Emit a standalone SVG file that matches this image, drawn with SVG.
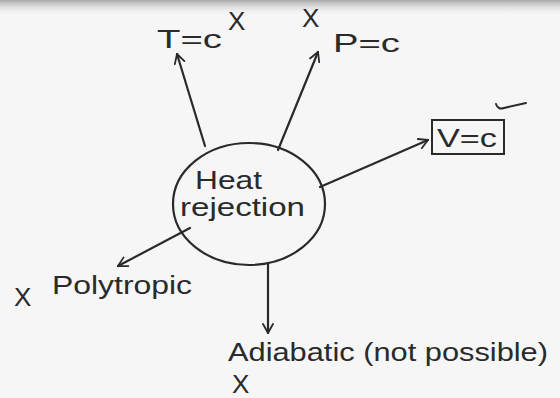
<svg xmlns="http://www.w3.org/2000/svg" width="560" height="398" viewBox="0 0 560 398">
<defs>
<linearGradient id="band" x1="0" y1="0" x2="0" y2="1">
<stop offset="0" stop-color="#a8a8a8"/>
<stop offset="1" stop-color="#f6f6f6" stop-opacity="0"/>
</linearGradient>
<marker id="ah" viewBox="0 0 12 12" refX="10" refY="6" markerWidth="12" markerHeight="12" markerUnits="userSpaceOnUse" orient="auto">
<path d="M1,1 L10,6 L1,11" fill="none" stroke="#2a2a2a" stroke-width="1.8" stroke-linecap="round" stroke-linejoin="round"/>
</marker>
<style>
.t{font-family:"Liberation Sans","DejaVu Sans",sans-serif;fill:#2a2a2a;font-size:26px}
.c{fill:none;stroke:#2a2a2a;stroke-width:2.2;stroke-linecap:round;marker-end:url(#ah)}
.x{font-family:"Liberation Sans","DejaVu Sans",sans-serif;fill:#2a2a2a;font-size:26px}
</style>
</defs>
<rect width="560" height="398" fill="#f6f6f6"/>
<rect width="560" height="16" fill="url(#band)"/>
<g id="connectors">
<line class="c" x1="205" y1="146" x2="177" y2="54"/>
<line class="c" x1="278" y1="150" x2="318" y2="52"/>
<line class="c" x1="320" y1="187" x2="428" y2="140"/>
<line class="c" x1="190" y1="228" x2="118" y2="266"/>
<line class="c" x1="268" y1="264" x2="268" y2="333"/>
</g>
<g id="heat-rejection">
<ellipse cx="249" cy="204" rx="76" ry="61" fill="none" stroke="#2a2a2a" stroke-width="2.2"/>
<text class="t" x="195" y="189" textLength="67" lengthAdjust="spacingAndGlyphs">Heat</text>
<text class="t" x="180" y="216" textLength="125" lengthAdjust="spacingAndGlyphs">rejection</text>
</g>
<g id="t-const">
<text class="t" x="157" y="48" textLength="65" lengthAdjust="spacingAndGlyphs">T=c</text>
<text class="x" x="228" y="30">X</text>
</g>
<g id="p-const">
<text class="x" x="302" y="27">X</text>
<text class="t" x="333" y="52" textLength="67" lengthAdjust="spacingAndGlyphs">P=c</text>
</g>
<g id="v-const">
<rect x="432" y="120" width="72" height="34" fill="none" stroke="#2a2a2a" stroke-width="2"/>
<text class="t" x="437" y="147" textLength="60" lengthAdjust="spacingAndGlyphs">V=c</text>
<path d="M496,104 Q498,110 504,108 L526,103" fill="none" stroke="#2a2a2a" stroke-width="2" stroke-linecap="round"/>
</g>
<g id="polytropic">
<text class="t" x="14" y="306" font-size="32">X</text>
<text class="t" x="52" y="294" textLength="140" lengthAdjust="spacingAndGlyphs">Polytropic</text>
</g>
<g id="adiabatic">
<text class="t" x="228" y="361" font-size="28" textLength="320" lengthAdjust="spacingAndGlyphs">Adiabatic (not possible)</text>
<text class="x" x="232" y="393" font-size="16">X</text>
</g>
</svg>
